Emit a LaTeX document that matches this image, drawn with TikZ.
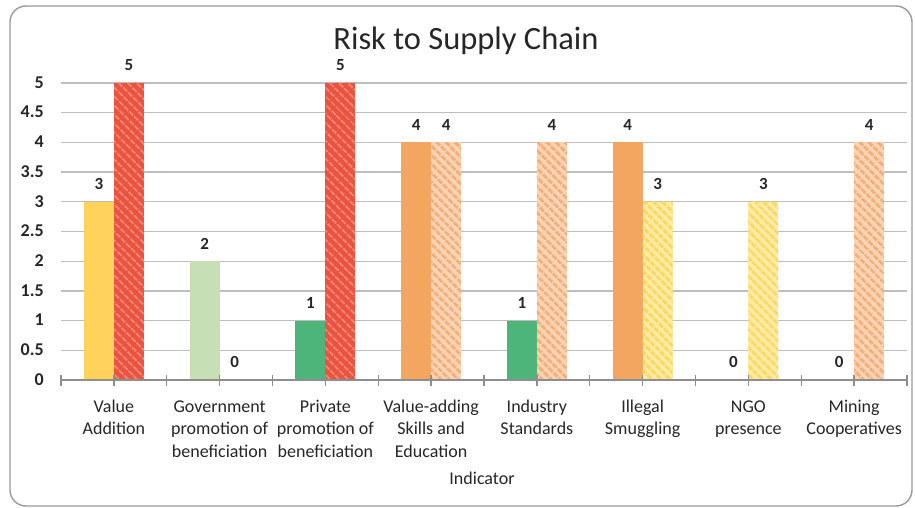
\documentclass[tikz,border=0pt]{standalone}
\usepackage{fontspec}
\setmainfont{Carlito}
\usetikzlibrary{patterns.meta}
\definecolor{cyel}{HTML}{FDD35C}
\definecolor{cred}{HTML}{E9533F}
\definecolor{credl}{HTML}{F28676}
\definecolor{cgrl}{HTML}{C6DFB4}
\definecolor{cgrn}{HTML}{4DB57A}
\definecolor{corg}{HTML}{F2A660}
\definecolor{corl}{HTML}{FAD3B4}
\definecolor{cord}{HTML}{F4AE78}
\definecolor{cyl}{HTML}{FEEBA5}
\definecolor{cyd}{HTML}{FDD962}
\definecolor{cgrid}{HTML}{BEBEBE}
\definecolor{caxis}{HTML}{8E8E8E}
\definecolor{cframe}{HTML}{9A9A9A}
\definecolor{ctext}{HTML}{262626}
\begin{document}
\begin{tikzpicture}[x=1pt,y=1pt,
  frame/.style={draw=cframe,line width=1.4pt,rounded corners=16pt},
  gridline/.style={draw=cgrid,line width=1.3pt},
  axisline/.style={draw=caxis,line width=1.6pt},
  tickmark/.style={draw=caxis,line width=1.4pt},
  titletext/.style={font=\fontsize{32.5}{36}\selectfont,text=ctext,inner sep=0pt},
  ylab/.style={font=\bfseries\fontsize{18}{20}\selectfont,text=ctext,inner sep=0pt},
  dlab/.style={font=\bfseries\fontsize{17}{20}\selectfont,text=ctext,inner sep=0pt},
  catlab/.style={font=\fontsize{18}{22.5}\selectfont,text=ctext,align=center,inner sep=0pt},
  axtitle/.style={font=\fontsize{18}{20}\selectfont,text=ctext,inner sep=0pt},
  barYel/.style={fill=cyel},
  barGrl/.style={fill=cgrl},
  barGrn/.style={fill=cgrn},
  barOrg/.style={fill=corg},
  hatchRed/.style={fill=cred,postaction={pattern={Lines[angle=-45,distance=6.5pt,line width=2.2pt]},pattern color=credl}},
  hatchOrg/.style={fill=corl,postaction={pattern={Lines[angle=-45,distance=6.5pt,line width=3.2pt]},pattern color=cord}},
  hatchYel/.style={fill=cyl,postaction={pattern={Lines[angle=-45,distance=6.5pt,line width=3.2pt]},pattern color=cyd}},
  nobar/.style={}
]
\useasboundingbox (0,0) rectangle (915,508);
\draw[frame] (10,2) rectangle (912,502);
\node[titletext,anchor=base] (title) at (466,458) {Risk to Supply Chain};
% gridlines and y labels
\foreach \v/\t [count=\i] in {0.5/0.5,1/1,1.5/1.5,2/2,2.5/2.5,3/3,3.5/3.5,4/4,4.5/4.5,5/5}{
  \pgfmathsetmacro{\yy}{128+59.4*\v}
  \draw[gridline] (61,\yy) coordinate (gl\i) -- (907,\yy);
}
\foreach \v/\t [count=\i] in {0/0,0.5/0.5,1/1,1.5/1.5,2/2,2.5/2.5,3/3,3.5/3.5,4/4,4.5/4.5,5/5}{
  \pgfmathsetmacro{\yy}{128+59.4*\v-5.3}
  \node[ylab,anchor=base east] (yl\i) at (44,\yy) {\t};
}
% bars
\foreach \k/\a/\sa/\b/\sb in {
  0/3/barYel/5/hatchRed,
  1/2/barGrl/0/nobar,
  2/1/barGrn/5/hatchRed,
  3/4/barOrg/4/hatchOrg,
  4/1/barGrn/4/hatchOrg,
  5/4/barOrg/3/hatchYel,
  6/0/nobar/3/hatchYel,
  7/0/nobar/4/hatchOrg}{
  \pgfmathsetmacro{\cx}{113.875+105.75*\k}
  \pgfmathsetmacro{\ya}{128+59.4*\a}
  \pgfmathsetmacro{\yb}{128+59.4*\b}
  \ifnum\a>0 \path[\sa] (\cx-30,128) rectangle (\cx,\ya); \fi
  \ifnum\b>0 \path[\sb] (\cx,128) rectangle (\cx+30,\yb); \fi
  \node[dlab,anchor=base] (da\k) at (\cx-15,\ya+12) {\a};
  \node[dlab,anchor=base] (db\k) at (\cx+15,\yb+12) {\b};
}
% axis and ticks
\draw[axisline] (61,128) coordinate (ax0) -- (907,128) coordinate (ax1);
\foreach \j in {0,...,16}{
  \draw[tickmark] (61+52.875*\j,133) -- ++(0,-11);
}
% category labels
\foreach \k/\t in {
  0/{Value\\Addition},
  1/{Government\\promotion of\\beneficiation},
  2/{Private\\promotion of\\beneficiation},
  3/{Value-adding\\Skills and\\Education},
  4/{Industry\\Standards},
  5/{Illegal\\Smuggling},
  6/{NGO\\presence},
  7/{Mining\\Cooperatives}}{
  \pgfmathsetmacro{\cx}{113.875+105.75*\k}
  \node[catlab,anchor=north] (cl\k) at (\cx,111.75) {\strut\t};
}
\node[axtitle,anchor=base] (axt) at (482,23) {Indicator};
\end{tikzpicture}
\end{document}
